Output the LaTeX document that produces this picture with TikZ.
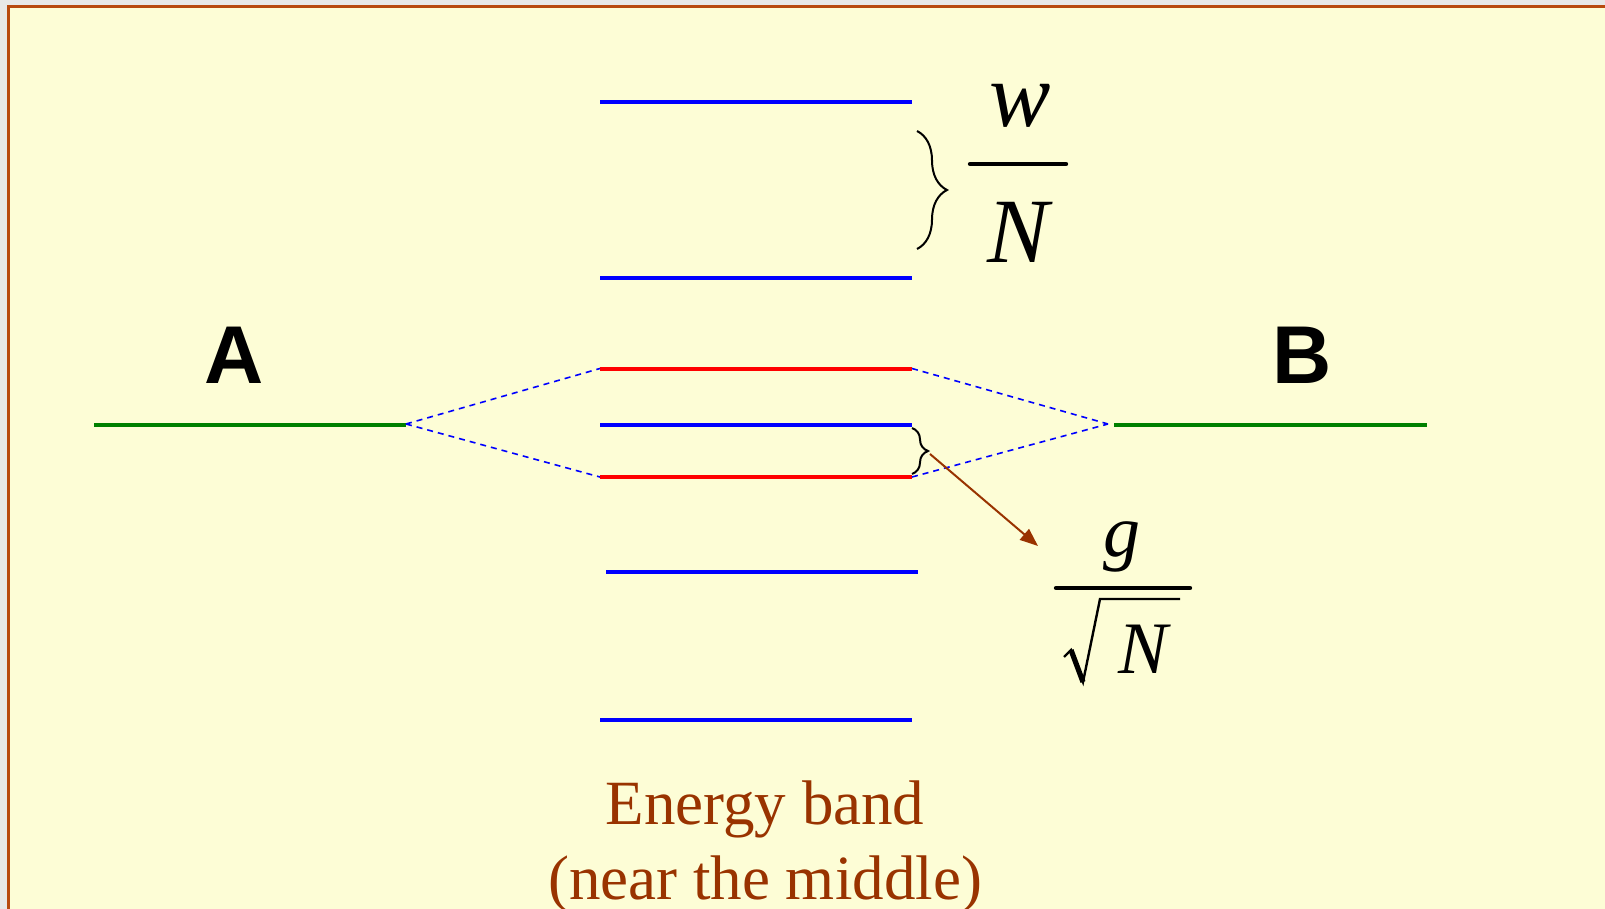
\documentclass[tikz,border=0pt]{standalone}
\usepackage{fontspec}
\setmainfont{Liberation Serif}
\newfontfamily\hsans{Liberation Sans}
\usetikzlibrary{decorations.pathreplacing,arrows.meta}
\definecolor{bgyellow}{RGB}{253,253,214}
\definecolor{outgray}{RGB}{232,232,232}
\definecolor{framebrown}{RGB}{184,74,15}
\definecolor{txtbrown}{RGB}{153,51,0}
\definecolor{lvgreen}{RGB}{0,128,0}
\tikzset{
  level/.style={line width=2pt},
  bluelv/.style={level,draw=blue},
  redlv/.style={level,draw=red},
  greenlv/.style={level,draw=lvgreen},
  mix/.style={draw=blue,line width=0.8pt,dash pattern=on 3pt off 2.5pt},
  bracestyle/.style={draw=black,line width=1pt,decorate},
  lbl/.style={font=\hsans\bfseries\fontsize{41}{48}\selectfont,anchor=base,inner sep=0pt},
  captxt/.style={font=\fontsize{31.5}{36}\selectfont,text=txtbrown,anchor=base,inner sep=0pt},
  bigmath/.style={font=\itshape\fontsize{46}{52}\selectfont,anchor=base,inner sep=0pt},
  midmath/.style={font=\itshape\fontsize{37}{42}\selectfont,anchor=base,inner sep=0pt}
}
\begin{document}
\begin{tikzpicture}[x=0.5pt,y=-0.5pt]
\useasboundingbox (0,0) rectangle (1605,909);
\fill[outgray] (0,0) rectangle (1605,909);
\begin{scope}
\clip (0,0) rectangle (1605,909);
\draw[fill=bgyellow,draw=framebrown,line width=1.2pt] (8.5,6.5) rectangle (1640,940);
\end{scope}

% level end points
\coordinate (b1l) at (600,102);  \coordinate (b1r) at (912,102);
\coordinate (b2l) at (600,278);  \coordinate (b2r) at (912,278);
\coordinate (r1l) at (600,368.5);\coordinate (r1r) at (912,368.5);
\coordinate (b3l) at (600,425);  \coordinate (b3r) at (912,425);
\coordinate (r2l) at (600,477);  \coordinate (r2r) at (912,477);
\coordinate (b4l) at (606,572);  \coordinate (b4r) at (918,572);
\coordinate (b5l) at (600,720);  \coordinate (b5r) at (912,720);
\coordinate (gal) at (94,425);   \coordinate (gar) at (406,425);
\coordinate (gbl) at (1114,425); \coordinate (gbr) at (1427,425);
\coordinate (apexA) at (406,424);
\coordinate (apexB) at (1108,424);

\draw[bluelv] (b1l) -- (b1r);
\draw[bluelv] (b2l) -- (b2r);
\draw[bluelv] (b3l) -- (b3r);
\draw[bluelv] (b4l) -- (b4r);
\draw[bluelv] (b5l) -- (b5r);
\draw[redlv] (r1l) -- (r1r);
\draw[redlv] (r2l) -- (r2r);
\draw[greenlv] (gal) -- (gar);
\draw[greenlv] (gbl) -- (gbr);

\draw[mix] (apexA) -- (r1l);
\draw[mix] (apexA) -- (r2l);
\draw[mix] (r1r) -- (apexB);
\draw[mix] (r2r) -- (apexB);

\node[lbl] (A) at (234,383) {A};
\node[lbl] (B) at (1302,383) {B};

% big brace and w/N
\coordinate (br1t) at (917,131);
\coordinate (br1b) at (917,249);
\draw[bracestyle,decoration={brace,amplitude=15pt}] (br1t) -- (br1b);
\node[bigmath] (w) at (1020,127) {w};
\coordinate (f1l) at (970,164);
\coordinate (f1r) at (1066,164);
\draw[line width=2.2pt,line cap=round] (f1l) -- (f1r);
\node[bigmath] (N1) at (1018,263) {N};

% small brace and arrow
\coordinate (br2t) at (912,428);
\coordinate (br2b) at (912,474);
\draw[bracestyle,decoration={brace,amplitude=8pt}] (br2t) -- (br2b);
\coordinate (arS) at (930,454);
\coordinate (arE) at (1038,546);
\draw[txtbrown,line width=1pt,-{Triangle[length=9pt,width=7pt]}] (arS) -- (arE);

% g / sqrt N
\node[midmath] (g) at (1122,556) {g};
\coordinate (f2l) at (1056,588);
\coordinate (f2r) at (1190,588);
\draw[line width=2.2pt,line cap=round] (f2l) -- (f2r);
\coordinate (s1) at (1064,657);
\coordinate (s2) at (1071,650);
\coordinate (s3) at (1083,682);
\coordinate (s4) at (1100,599);
\coordinate (s5) at (1180,599);
\draw[line width=1.2pt,line join=miter] (s1) -- (s2) -- (s3) -- (s4) -- (s5);
\draw[line width=2.6pt] (s2) -- (s3);
\node[midmath] (N2) at (1143,673) {N};

\node[captxt] (cap1) at (765,824) {Energy band};
\node[captxt] (cap2) at (765,899) {(near the middle)};
\end{tikzpicture}
\end{document}
